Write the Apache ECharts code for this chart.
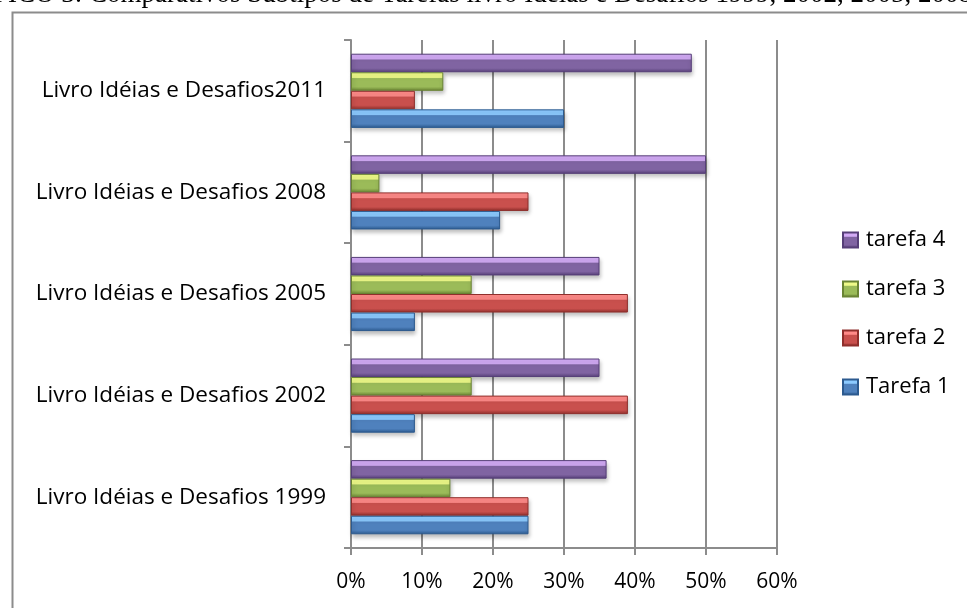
<!DOCTYPE html>
<html>
<head>
<meta charset="utf-8">
<script src="https://cdn.jsdelivr.net/npm/echarts@6/dist/echarts.min.js"></script>
<style>
html,body{margin:0;padding:0;background:#fff;}
#main{width:967px;height:608px;}
</style>
</head>
<body>
<div id="main"></div>
<script>
var categories = ['Livro Idéias e Desafios 1999', 'Livro Idéias e Desafios 2002', 'Livro Idéias e Desafios 2005', 'Livro Idéias e Desafios 2008', 'Livro Idéias e Desafios2011'];
var tarefa1 = [0.25, 0.09, 0.09, 0.21, 0.30];
var tarefa2 = [0.25, 0.39, 0.39, 0.25, 0.09];
var tarefa3 = [0.14, 0.17, 0.17, 0.04, 0.13];
var tarefa4 = [0.36, 0.35, 0.35, 0.50, 0.48];
var seriesNames = ['tarefa 4', 'tarefa 3', 'tarefa 2', 'Tarefa 1'];
var xTicks = [0, 0.1, 0.2, 0.3, 0.4, 0.5, 0.6];
var titleText = 'GRÁFICO 3: Comparativos Subtipos de Tarefas livro Idéias e Desafios 1999, 2002, 2005, 2008';

var palette = [
  ['#d2aaf5', '#8064a2', '#563f78'],
  ['#eefa88', '#9bbb59', '#6a8434'],
  ['#ff8a88', '#c9504d', '#8f2f2c'],
  ['#8ccaff', '#4f81bd', '#2c5a8f']
];
function grad(p) {
  return new echarts.graphic.LinearGradient(0, 0, 0, 1, [
    {offset: 0, color: p[0]},
    {offset: 0.28, color: p[0]},
    {offset: 0.34, color: p[1]},
    {offset: 0.78, color: p[1]},
    {offset: 1, color: p[2]}
  ]);
}
var data = [tarefa4, tarefa3, tarefa2, tarefa1];
var series = data.map(function (d, i) {
  return {
    name: seriesNames[i],
    type: 'bar',
    data: d,
    barGap: '0%',
    barCategoryGap: '27%',
    itemStyle: {
      color: grad(palette[i]),
      borderColor: palette[i][2],
      borderWidth: 1,
      shadowColor: 'rgba(0,0,0,0.25)',
      shadowBlur: 4,
      shadowOffsetY: 3,
      shadowOffsetX: 1
    }
  };
});

var chart = echarts.init(document.getElementById('main'));
chart.setOption({
  animation: false,
  color: palette.map(function (p) { return p[1]; }),
  graphic: [
    {type: 'rect', left: 10, top: 10, shape: {width: 1000, height: 700}, style: {fill: 'none', stroke: '#8c8c8c', lineWidth: 2}, silent: true},
    {type: 'text', x: 972, y: 8, style: {text: titleText, fill: '#000', font: '27px "Liberation Serif"', textAlign: 'right', textVerticalAlign: 'bottom'}}
  ],
  grid: {left: 351, right: 190, top: 40, bottom: 60, containLabel: false},
  legend: {
    orient: 'vertical',
    left: 842,
    top: 229,
    padding: 0,
    itemWidth: 15,
    itemHeight: 15,
    itemGap: 27,
    icon: 'rect',
    data: ['tarefa 4', 'tarefa 3', 'tarefa 2', 'Tarefa 1'],
    textStyle: {fontFamily: 'Open Sans', fontSize: 22, lineHeight: 22, color: '#000', padding: [0, 0, 0, 3]}
  },
  xAxis: {
    type: 'value',
    min: 0,
    max: 0.6,
    interval: 0.1,
    axisLine: {show: true, lineStyle: {color: '#8c8c8c', width: 2}},
    axisTick: {show: true, length: 7, lineStyle: {color: '#8c8c8c', width: 2}},
    splitLine: {show: true, lineStyle: {color: '#8c8c8c', width: 2}},
    axisLabel: {
      margin: 24,
      fontFamily: 'Open Sans',
      fontSize: 21,
      color: '#000',
      formatter: function (v) { return Math.round(v * 100) + '%'; }
    }
  },
  yAxis: {
    type: 'category',
    data: categories,
    axisLine: {show: true, lineStyle: {color: '#8c8c8c', width: 2}},
    axisTick: {show: true, length: 7, lineStyle: {color: '#8c8c8c', width: 2}},
    axisLabel: {margin: 25, fontFamily: 'Open Sans', fontSize: 22.5, color: '#000'}
  },
  series: series
});
</script>
</body>
</html>
